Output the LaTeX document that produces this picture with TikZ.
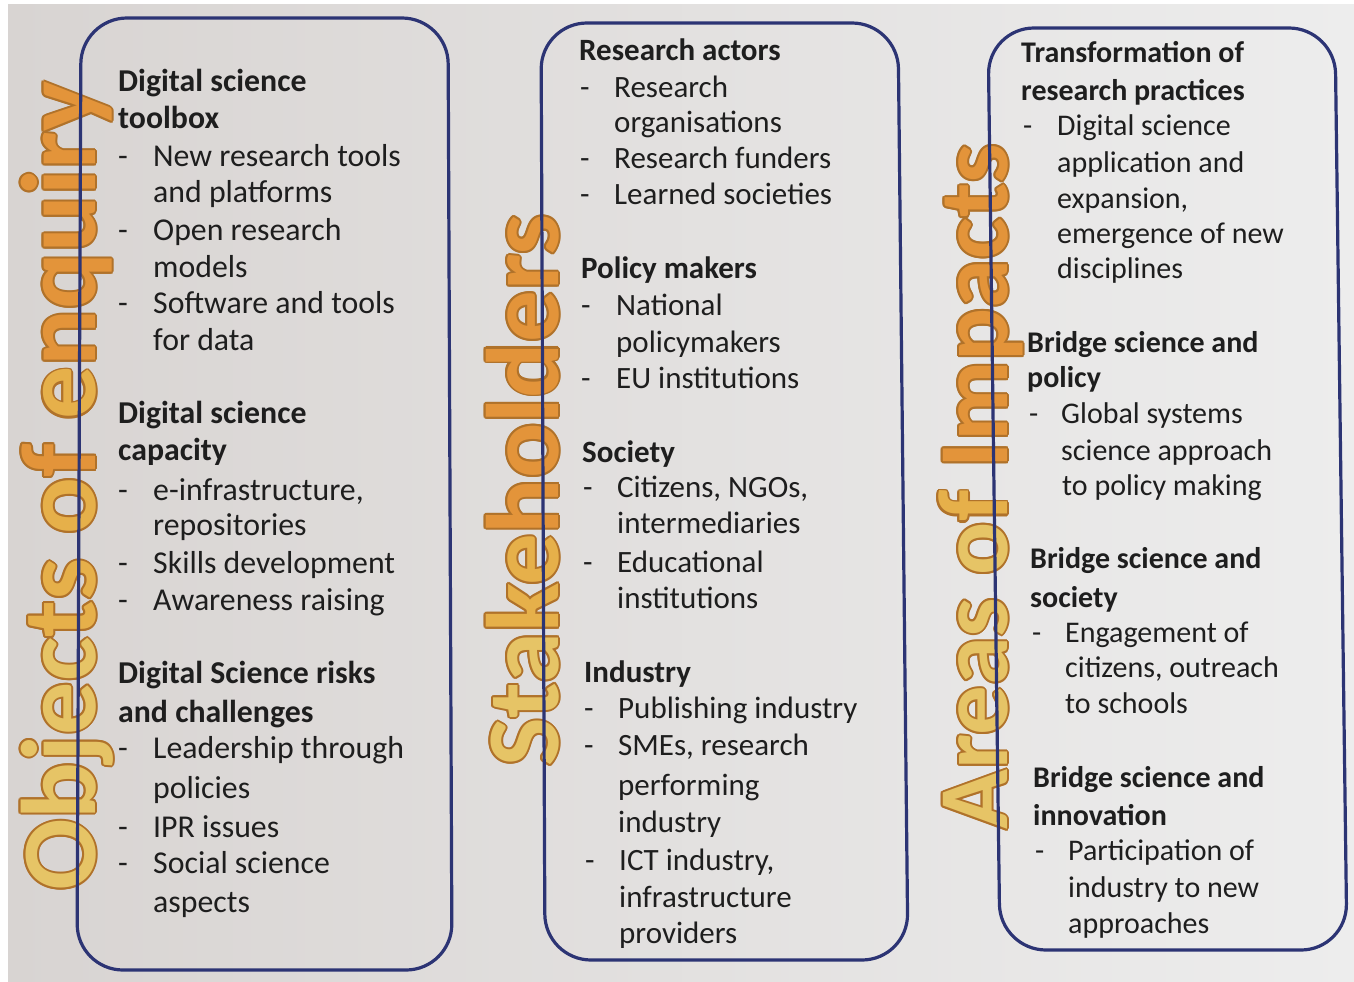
\documentclass[tikz,border=0pt]{standalone}
\usepackage{fontspec}
\setmainfont{Carlito}
\usetikzlibrary{calc}
\definecolor{bgL}{HTML}{D8D4D2}
\definecolor{bgR}{HTML}{EDEDED}
\definecolor{boxc}{HTML}{2C3474}
\definecolor{ink}{HTML}{1E1E1E}
\definecolor{gpale}{HTML}{E6C466}
\definecolor{gmid}{HTML}{E6B04A}
\definecolor{gorange}{HTML}{E3943A}
\definecolor{gedge}{HTML}{B0722A}
\newcommand{\goldtitle}[6]{% name, x, y, size, coloured text, plain text
  \foreach \a in {0,30,...,330}{%
    \node[gshadow,font=\fontsize{#4}{#4}\selectfont\bfseries] (#1s\a) at ($(#2,#3)+(\a:2)$) {#6};}
  \node[gfill,font=\fontsize{#4}{#4}\selectfont\bfseries] (#1) at (#2,#3) {#5};}
\begin{document}
\begin{tikzpicture}[x=1pt,y=-1pt,
  txta/.style={anchor=base west, inner sep=0pt, font=\fontsize{31.8}{37}\selectfont, text=ink},
  hda/.style={anchor=base west, inner sep=0pt, font=\fontsize{31.8}{37}\selectfont\bfseries, text=ink},
  txt/.style={anchor=base west, inner sep=0pt, font=\fontsize{31}{37}\selectfont, text=ink},
  hd/.style={anchor=base west, inner sep=0pt, font=\fontsize{31}{37}\selectfont\bfseries, text=ink},
  txtc/.style={anchor=base west, inner sep=0pt, font=\fontsize{30}{36}\selectfont, text=ink},
  hdc/.style={anchor=base west, inner sep=0pt, font=\fontsize{30}{36}\selectfont\bfseries, text=ink},
  gshadow/.style={rotate=90, anchor=base west, inner sep=0pt, text=gedge},
  gfill/.style={rotate=90, anchor=base west, inner sep=0pt, text=gpale},
  boxline/.style={draw=boxc, line width=3.2pt, rounded corners=46pt}]
\useasboundingbox (0,0) rectangle (1354,982);
\fill[white] (0,0) rectangle (1354,982);
\shade[left color=bgL, right color=bgR] (8,5) rectangle (1354,982);

% golden vertical titles
\goldtitle{t1}{95}{891}{106}{{\color{gpale}Objec}{\color{gmid}ts o}{\color{gorange}f }{\color{gmid}e}{\color{gorange}nquiry}}{Objects of enquiry}
\goldtitle{t2}{558}{767}{103}{{\color{gpale}Sta}{\color{gmid}ke}{\color{gorange}holders}}{Stakeholders}
\goldtitle{t3}{1007}{830}{99}{{\color{gpale}Areas o}{\color{gmid}f }{\color{gorange}Impacts}}{Areas of Impacts}

% boxes
\draw[boxline] (265,18) -- (448,18) -- (452,970) -- (77,970) -- (81,18) -- cycle;
\draw[boxline] (720,23) -- (898,23) -- (908,960) -- (545,960) -- (541,23) -- cycle;
\draw[boxline] (1160,28) -- (1335,28) -- (1347,950) -- (1000,950) -- (988,28) -- cycle;

% box 1
\node[hda] (a1) at (118,92) {Digital science};
\node[hda] (a2) at (118,128) {toolbox};
\node[txta] (a3d) at (118,166) {-};
\node[txta] (a3) at (153,166) {New research tools};
\node[txta] (a4) at (153,202) {and platforms};
\node[txta] (a5d) at (118,240) {-};
\node[txta] (a5) at (153,240) {Open research};
\node[txta] (a6) at (153,277) {models};
\node[txta] (a7d) at (118,313) {-};
\node[txta] (a7) at (153,313) {Software and tools};
\node[txta] (a8) at (153,350) {for data};
\node[hda] (a9) at (118,423) {Digital science};
\node[hda] (a10) at (118,460) {capacity};
\node[txta] (a11d) at (118,500) {-};
\node[txta] (a11) at (153,500) {e-infrastructure,};
\node[txta] (a12) at (153,535) {repositories};
\node[txta] (a13d) at (118,573) {-};
\node[txta] (a13) at (153,573) {Skills development};
\node[txta] (a14d) at (118,610) {-};
\node[txta] (a14) at (153,610) {Awareness raising};
\node[hda] (a15) at (118,683) {Digital Science risks};
\node[hda] (a16) at (118,722) {and challenges};
\node[txta] (a17d) at (118,758) {-};
\node[txta] (a17) at (153,758) {Leadership through};
\node[txta] (a18) at (153,798) {policies};
\node[txta] (a19d) at (118,837) {-};
\node[txta] (a19) at (153,837) {IPR issues};
\node[txta] (a20d) at (118,873) {-};
\node[txta] (a20) at (153,873) {Social science};
\node[txta] (a21) at (153,912) {aspects};

% box 2
\node[hd] (b1) at (579,60) {Research actors};
\node[txt] (b2d) at (580,97) {-};
\node[txt] (b2) at (614,97) {Research};
\node[txt] (b3) at (614,132) {organisations};
\node[txt] (b4d) at (580,168) {-};
\node[txt] (b4) at (614,168) {Research funders};
\node[txt] (b5d) at (580,204) {-};
\node[txt] (b5) at (614,204) {Learned societies};
\node[hd] (b6) at (581,278) {Policy makers};
\node[txt] (b7d) at (581,315) {-};
\node[txt] (b7) at (616,315) {National};
\node[txt] (b8) at (616,352) {policymakers};
\node[txt] (b9d) at (581,388) {-};
\node[txt] (b9) at (616,388) {EU institutions};
\node[hd] (b10) at (582,462) {Society};
\node[txt] (b11d) at (583,497) {-};
\node[txt] (b11) at (617,497) {Citizens, NGOs,};
\node[txt] (b12) at (617,533) {intermediaries};
\node[txt] (b13d) at (583,572) {-};
\node[txt] (b13) at (617,572) {Educational};
\node[txt] (b14) at (617,608) {institutions};
\node[hd] (b15) at (584,682) {Industry};
\node[txt] (b16d) at (584,718) {-};
\node[txt] (b16) at (618,718) {Publishing industry};
\node[txt] (b17d) at (584,755) {-};
\node[txt] (b17) at (618,755) {SMEs, research};
\node[txt] (b18) at (618,795) {performing};
\node[txt] (b19) at (618,832) {industry};
\node[txt] (b20d) at (585,870) {-};
\node[txt] (b20) at (619,870) {ICT industry,};
\node[txt] (b21) at (619,907) {infrastructure};
\node[txt] (b22) at (619,943) {providers};

% box 3
\node[hdc] (c1) at (1021,63) {Transformation of};
\node[hdc] (c2) at (1021,100) {research practices};
\node[txtc] (c3d) at (1023,135) {-};
\node[txtc] (c3) at (1057,135) {Digital science};
\node[txtc] (c4) at (1057,172) {application and};
\node[txtc] (c5) at (1057,208) {expansion,};
\node[txtc] (c6) at (1057,243) {emergence of new};
\node[txtc] (c7) at (1057,278) {disciplines};
\node[hdc] (c8) at (1027,352) {Bridge science and};
\node[hdc] (c9) at (1027,387) {policy};
\node[txtc] (c10d) at (1029,423) {-};
\node[txtc] (c10) at (1061,423) {Global systems};
\node[txtc] (c11) at (1061,460) {science approach};
\node[txtc] (c12) at (1062,495) {to policy making};
\node[hdc] (c13) at (1030,568) {Bridge science and};
\node[hdc] (c14) at (1030,607) {society};
\node[txtc] (c15d) at (1032,642) {-};
\node[txtc] (c15) at (1065,642) {Engagement of};
\node[txtc] (c16) at (1065,677) {citizens, outreach};
\node[txtc] (c17) at (1065,713) {to schools};
\node[hdc] (c18) at (1033,787) {Bridge science and};
\node[hdc] (c19) at (1033,825) {innovation};
\node[txtc] (c20d) at (1035,860) {-};
\node[txtc] (c20) at (1068,860) {Participation of};
\node[txtc] (c21) at (1068,897) {industry to new};
\node[txtc] (c22) at (1068,933) {approaches};
\end{tikzpicture}
\end{document}
